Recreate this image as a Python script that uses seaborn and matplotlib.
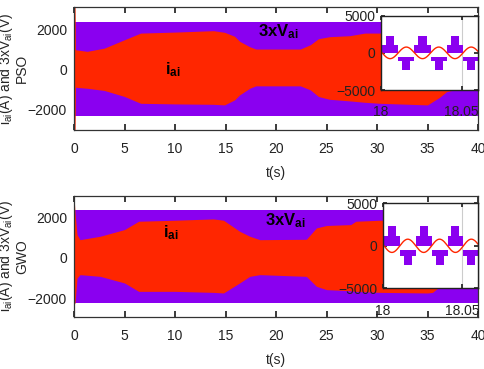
import numpy as np
import matplotlib
matplotlib.use("Agg")
import matplotlib.pyplot as plt
import seaborn as sns

# ---- data ----
# voltage band (3xVai), drawn as a solid band in the 0-40 s view
band_t = [0, 40]
pso_band = [-2300, 2400]
gwo_band = [-2200, 2380]

# current (iai) envelope knots, PSO
pso_t = [0, 0.1, 0.15, 1.3, 3, 5, 6.6, 10, 13.8, 14.9, 15.9, 16.4, 17.4, 18, 22.4,
         23.4, 24.2, 25.3, 27.3, 28.8, 30.3, 35, 36.2, 36.9, 37.7, 40]
pso_upper = [3300, 3300, 1000, 920, 1080, 1500, 1830, 1880, 1950, 1870, 1670, 1420,
             1150, 1035, 1035, 1250, 1550, 1650, 1700, 1830, 1830, 1830, 1830, 1830,
             1830, 1830]
pso_lower = [-3300, -3300, -870, -920, -1030, -1330, -1670, -1700, -1720, -1750, -1500,
             -1250, -920, -800, -800, -1000, -1330, -1470, -1550, -1620, -1670, -1750,
             -1370, -1085, -1000, -1000]

# current envelope knots, GWO
gwo_t = [0, 0.1, 0.3, 0.6, 2.6, 5, 6.4, 10, 13.8, 14.8, 16.4, 17.4, 18.4, 23, 24, 25,
         27.4, 27.9, 30.3, 35, 35.5, 36.5, 37.5, 40]
gwo_upper = [3100, 2220, 1150, 900, 1070, 1400, 1810, 1860, 1925, 1860, 1315, 1070, 900,
             920, 1480, 1600, 1645, 1810, 1860, 1860, 1860, 1860, 1860, 1860]
gwo_lower = [-2300, -2220, -990, -825, -910, -1235, -1650, -1650, -1700, -1730, -1235,
             -910, -825, -910, -1400, -1565, -1620, -1650, -1700, -1730, -1700, -1300,
             -1050, -1000]

# zoomed inset 18 - 18.06 s: one cycle of the staircase voltage
period = 0.02
step_t = [0.0008, 0.0033, 0.0083, 0.0108, 0.0133, 0.0183]
step_hi = [1100, 2300, 1100, -500, -500, -500]
step_lo = [0, 0, 0, -1150, -2300, -1150]
i_amp = 780          # current amplitude in the inset
freq = 50
i_shift = 0.0008

RED = "#FF2600"
PURPLE = "#8A00F0"

sns.set_theme(style="ticks")
plt.rcParams["font.family"] = ["Liberation Sans", "DejaVu Sans"]
plt.rcParams["mathtext.fontset"] = "custom"
plt.rcParams["mathtext.rm"] = "Liberation Sans"
plt.rcParams["mathtext.it"] = "Liberation Sans"
plt.rcParams["mathtext.bf"] = "Liberation Sans:bold"

fig = plt.figure(figsize=(4.84, 3.69), dpi=100)
ax1 = fig.add_axes([74 / 484, 1 - 130 / 369, 404 / 484, 123 / 369])
ax2 = fig.add_axes([74 / 484, 1 - 316.7 / 369, 404 / 484, 121 / 369])
in1 = fig.add_axes([380.7 / 484, 1 - 90 / 369, 97.3 / 484, 74.3 / 369])
in2 = fig.add_axes([382.7 / 484, 1 - 288.3 / 369, 95.3 / 484, 85 / 369])

panels = [
    (ax1, in1, "PSO", pso_band, pso_t, pso_upper, pso_lower, (-3000, 3130),
     (9.0, -200), (18.2, 1650)),
    (ax2, in2, "GWO", gwo_band, gwo_t, gwo_upper, gwo_lower, (-2900, 3070),
     (8.8, 1000), (18.9, 1600)),
]

# inset series built from the cycle read above
ins_t, ins_hi, ins_lo = [18.0], [-500], [-1150]
for k in range(3):
    ins_t += [18 + k * period + s for s in step_t]
    ins_hi += step_hi
    ins_lo += step_lo
ins_t.append(18.062)
ins_hi.append(ins_hi[-1])
ins_lo.append(ins_lo[-1])
sine_t = np.linspace(18, 18.06, 400)
sine_i = -i_amp * np.sin(2 * np.pi * freq * (sine_t - 18 - i_shift))

for ax, ins, name, band, t, up, lo, ylim, ipos, vpos in panels:
    ax.fill_between(band_t, band[0], band[1], color=PURPLE, lw=0)
    ax.fill_between(t, lo, up, color=RED, lw=0)
    ax.set_xlim(0, 40)
    ax.set_ylim(*ylim)
    ax.set_xticks(range(0, 41, 5))
    ax.set_yticks([-2000, 0, 2000])
    ax.tick_params(direction="in", top=True, right=True, labelsize=10, length=4,
                   pad=5, colors="#222222")
    ax.tick_params(axis="x", pad=9)
    for s in ax.spines.values():
        s.set_color("#333333")
        s.set_linewidth(0.9)
    ax.set_xlabel("t(s)", fontsize=10, labelpad=7)
    ax.set_ylabel(r"i$_{\mathregular{ai}}$(A) and 3xV$_{\mathregular{ai}}$(V)" + "\n" + name,
                  fontsize=10, linespacing=1.0)
    ax.yaxis.set_label_coords(-0.111, 0.5)
    ax.text(ipos[0], ipos[1], r"$\mathbf{i_{ai}}$", fontsize=12, color="black")
    ax.text(vpos[0], vpos[1], r"$\mathbf{3xV_{ai}}$", fontsize=12, color="black")

    ins.fill_between(ins_t, ins_lo, ins_hi, step="post", color=PURPLE, lw=0)
    sns.lineplot(x=sine_t, y=sine_i, ax=ins, color=RED, lw=1.0)
    ins.set_xlim(18, 18.06)
    ins.set_ylim(-5000, 5000)
    ins.set_xticks([18, 18.05])
    ins.set_xticklabels(["18", "18.05"])
    ins.set_yticks([-5000, 0, 5000])
    ins.grid(axis="x", color="#cccccc", lw=0.8)
    ins.set_facecolor("white")
    ins.tick_params(direction="in", top=True, right=True, labelsize=10, length=3,
                    pad=4, colors="#222222")
    ins.tick_params(axis="x", pad=11)
    for s in ins.spines.values():
        s.set_color("#222222")
        s.set_linewidth(1.0)

fig.savefig("out.png", dpi=100)
